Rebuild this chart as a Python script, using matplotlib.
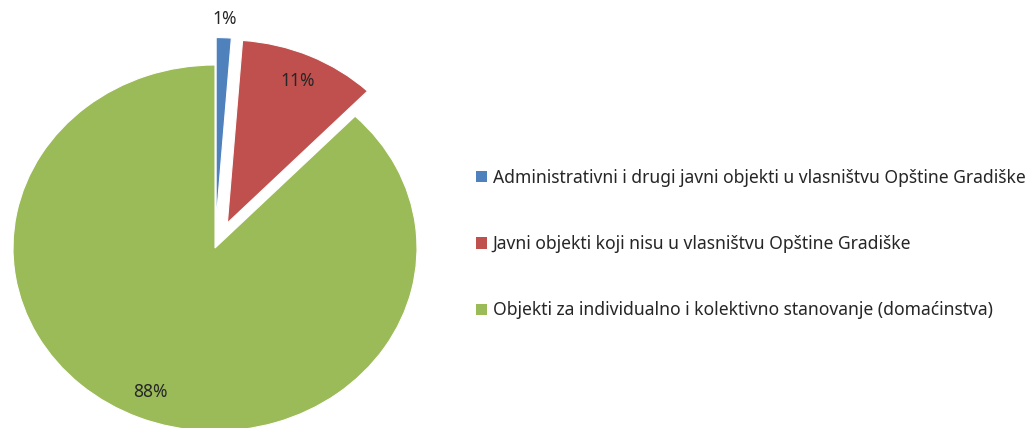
import numpy as np
import matplotlib
matplotlib.use("Agg")
from matplotlib import pyplot as plt
from matplotlib.patches import Patch

categories = [
    "Administrativni i drugi javni objekti u vlasništvu Opštine Gradiške",
    "Javni objekti koji nisu u vlasništvu Opštine Gradiške",
    "Objekti za individualno i kolektivno stanovanje (domaćinstva)",
]
shares = [1.2, 11.0, 87.8]
colors = ["#4F81BD", "#C0504D", "#9BBB59"]
explode = [0.15, 0.15, 0.0]

plt.rcParams['font.family'] = ['Noto Sans', 'DejaVu Sans']
txt_color = "#262626"
fs = 12.6

W, H = 1032, 428
fig = plt.figure(figsize=(W / 100, H / 100), dpi=100)

# pie axes in pixel terms: centre (215, 248) from top-left, rx 202, ry 183
ax_w = 430
ax = fig.add_axes([0, 0, ax_w / W, 1])
wedges, texts, autotexts = ax.pie(
    shares, colors=colors, explode=explode, startangle=90, counterclock=False,
    autopct='%.0f%%', pctdistance=0.85,
    wedgeprops=dict(edgecolor='white', linewidth=0.8),
    textprops=dict(color=txt_color, fontsize=fs))
ax.set_aspect('auto')
cx, cy, rx, ry = 215, 248, 202, 183
ax.set_xlim(-cx / rx, (ax_w - cx) / rx)
ax.set_ylim(-(H - cy) / ry, cy / ry)

# small slice label sits outside
w = wedges[0]
ang = np.deg2rad((w.theta1 + w.theta2) / 2)
autotexts[0].set_position((w.center[0] + 1.1 * np.cos(ang), w.center[1] + 1.1 * np.sin(ang)))

handles = [Patch(facecolor=c, edgecolor='none') for c in colors]
fig.legend(handles, categories, loc='upper left', bbox_to_anchor=(476 / W, 1 - 169 / H),
           frameon=False, fontsize=fs, labelcolor=txt_color, handlelength=0.6,
           handleheight=0.6, handletextpad=0.35, labelspacing=2.75, borderpad=0,
           borderaxespad=0)

plt.savefig("out.png", dpi=100)
